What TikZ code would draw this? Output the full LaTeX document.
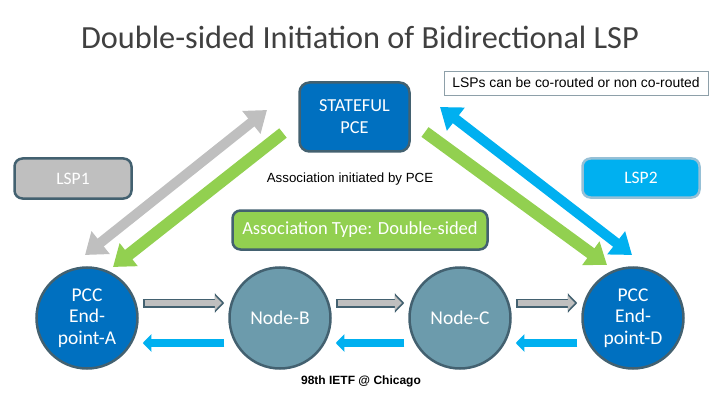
\documentclass[tikz,border=0pt]{standalone}
\usepackage{fontspec}
\setmainfont{Carlito}
\newfontfamily\arialfont{Liberation Sans}
\usetikzlibrary{arrows.meta,calc}
\definecolor{slate}{RGB}{67,97,112}
\definecolor{pceblue}{RGB}{0,112,192}
\definecolor{nodeteal}{RGB}{108,155,172}
\definecolor{lspcyan}{RGB}{0,176,240}
\definecolor{lspedge}{RGB}{150,192,214}
\definecolor{assocgreen}{RGB}{146,208,80}
\definecolor{lspgray}{RGB}{191,191,191}
\definecolor{titlegray}{RGB}{64,64,64}

\begin{document}
\begin{tikzpicture}[x=1pt,y=1pt,
  box/.style={draw=slate,line width=2.5pt,rounded corners=8pt,text=white,align=center,inner sep=0pt},
  disk/.style={circle,draw=slate,line width=2.5pt,minimum size=101pt,text=white,align=center,
    inner sep=0pt,font=\fontsize{19.5}{21.5}\selectfont},
  diag/.style={line width=10pt,>={Triangle[width=28pt,length=20pt]}},
  grayout/.style={slate,line width=9pt,-{Triangle[width=19pt,length=9.5pt]},shorten >=4pt,shorten <=4pt},
  grayin/.style={lspgray,line width=5.5pt,-{Triangle[width=14pt,length=7pt]},shorten >=6.4pt,shorten <=5.8pt},
  bluearr/.style={lspcyan,line width=8pt,-{Triangle[width=17pt,length=8.5pt]},shorten >=4pt,shorten <=4pt}]
  \useasboundingbox (0,0) rectangle (720,405);

  % title and notes
  \node[text=titlegray,font=\fontsize{32.3}{36}\selectfont] (title) at (360,368) {Double-sided Initiation of Bidirectional LSP};
  \node[draw=slate!60,line width=0.8pt,minimum width=264pt,minimum height=24pt,inner sep=0pt,
    font=\arialfont\fontsize{13.9}{15}\selectfont] (note) at (576,322) {LSPs can be co-routed or non co-routed};
  \node[font=\arialfont\fontsize{13.3}{15}\selectfont] (init) at (350,226) {Association initiated by PCE};
  \node[font=\arialfont\bfseries\fontsize{12}{14}\selectfont] (venue) at (361,24) {98th IETF @ Chicago};

  % boxes
  \node[box,fill=pceblue,rounded corners=10pt,minimum width=110pt,minimum height=69pt,
    font=\fontsize{18.3}{22}\selectfont] (pce) at (354.5,288) {STATEFUL\\PCE};
  \node[box,fill=lspgray,minimum width=117pt,minimum height=40pt,font=\fontsize{17.5}{18}\selectfont] (lsp1) at (73,226.5) {LSP1};
  \node[box,draw=lspedge,fill=lspcyan,minimum width=117pt,minimum height=39pt,font=\fontsize{17.5}{18}\selectfont] (lsp2) at (641,227) {LSP2};
  \node[box,fill=assocgreen,minimum width=255pt,minimum height=39pt,font=\fontsize{18.5}{20}\selectfont] (assoc) at (360,175) {Association Type: Double-sided};

  % path nodes
  \node[disk,fill=pceblue] (A) at (87,87) {PCC\\End-\\point-A};
  \node[disk,fill=nodeteal] (B) at (280,87) {Node-B};
  \node[disk,fill=nodeteal] (C) at (460,87) {Node-C};
  \node[disk,fill=pceblue] (D) at (633,87) {PCC\\End-\\point-D};

  % diagonal arrows
  \coordinate (g1) at (85,150);
  \coordinate (g2) at (267,295);
  \coordinate (gl1) at (283,272);
  \coordinate (gl2) at (113,138);
  \coordinate (gr1) at (425,273);
  \coordinate (gr2) at (607,140);
  \coordinate (b1) at (440,298);
  \coordinate (b2) at (632,150);
  \draw[diag,lspgray,<->] (g1) -- (g2);
  \draw[diag,assocgreen,line width=12pt,->] (gl1) -- (gl2);
  \draw[diag,assocgreen,line width=12pt,->] (gr1) -- (gr2);
  \draw[diag,lspcyan,<->] (b1) -- (b2);

  % hop arrows
  \foreach \u/\v in {A/B,B/C,C/D}{
    \draw[grayout] ([yshift=15pt]\u.east) -- ([yshift=15pt]\v.west);
    \draw[grayin] ([yshift=15pt]\u.east) -- ([yshift=15pt]\v.west);
    \draw[bluearr] ([yshift=-25pt]\v.west) -- ([yshift=-25pt]\u.east);
  }
\end{tikzpicture}
\end{document}
